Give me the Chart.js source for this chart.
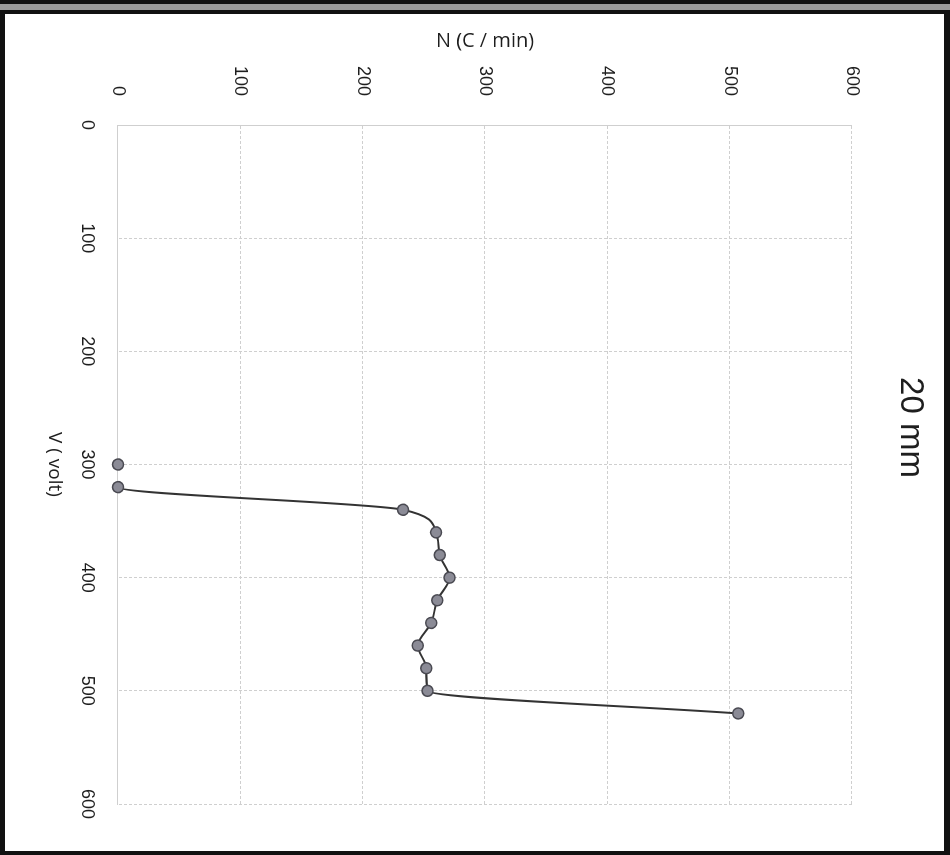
<!DOCTYPE html>
<html>
<head>
<meta charset="utf-8">
<title>20 mm</title>
<script src="https://cdn.jsdelivr.net/npm/chart.js@4.4.1/dist/chart.umd.min.js"></script>
<style>
  html, body { margin: 0; padding: 0; background: #ffffff; }
  body { width: 950px; height: 855px; position: relative; overflow: hidden; }
  .edge { position: absolute; background: #111; }
  #plot {
    position: absolute; left: 0; top: 0;
    width: 855px; height: 950px;
    transform-origin: 0 0;
    transform: translate(950px, 0) rotate(90deg);
  }
</style>
</head>
<body>
<div id="plot"><canvas id="c" width="855" height="950"></canvas></div>
<div class="edge" style="left:0;top:0;width:950px;height:4px;"></div>
<div class="edge" style="left:0;top:4px;width:950px;height:6px;background:#9a9a9a;"></div>
<div class="edge" style="left:0;top:10px;width:950px;height:4px;"></div>
<div class="edge" style="left:0;top:10px;width:5px;height:845px;"></div>
<div class="edge" style="left:944px;top:10px;width:6px;height:845px;"></div>
<div class="edge" style="left:0;top:851px;width:950px;height:4px;"></div>
<script>
// Applied voltage (V) and measured count rate N (C / min)
const voltage = [300, 320, 340, 360, 380, 400, 420, 440, 460, 480, 500, 520];
const countRate = [0, 0, 233, 260, 263, 271, 261, 256, 245, 252, 253, 507];

const axisMin = 0;
const axisMax = 600;
const axisStep = 100;

const chartTitle = '20 mm';
const xTitle = 'V ( volt)';
const yTitle = 'N (C / min)';

const gridColor = '#cfcfcf';
const textColor = '#1e1e1e';

new Chart(document.getElementById('c'), {
  type: 'line',
  data: {
    datasets: [{
      data: voltage.map((v, i) => ({ x: v, y: countRate[i] })),
      borderColor: '#333333',
      borderWidth: 2,
      pointRadius: 5.5,
      pointHoverRadius: 5.5,
      pointBackgroundColor: '#8b8b96',
      pointBorderColor: '#4a4a52',
      pointBorderWidth: 1.5,
      cubicInterpolationMode: 'monotone',
      clip: false,
      segment: {
        // no connecting stroke between the two zero-count readings
        borderColor: ctx => ctx.p0DataIndex === 0 ? 'rgba(0,0,0,0)' : undefined
      }
    }]
  },
  options: {
    responsive: false,
    animation: false,
    layout: { padding: 0 },
    plugins: {
      legend: { display: false },
      tooltip: { enabled: false },
      title: {
        display: true,
        text: chartTitle,
        color: textColor,
        font: { family: 'Liberation Sans', size: 33, weight: 'normal', lineHeight: 1.2 },
        padding: { top: 20, bottom: 38.4 }
      }
    },
    scales: {
      x: {
        type: 'linear',
        position: 'bottom',
        min: axisMin,
        max: axisMax,
        afterFit: s => { s.height = 118; },
        ticks: {
          stepSize: axisStep,
          color: textColor,
          padding: 20,
          maxRotation: 0,
          font: { family: 'Liberation Sans', size: 18 }
        },
        grid: { color: gridColor, lineWidth: 1, drawTicks: false, borderDash: [3, 2] },
        border: { display: true, color: gridColor, dash: [3, 2] },
        title: {
          display: true,
          text: xTitle,
          color: textColor,
          font: { family: 'Open Sans', size: 19 },
          padding: { top: 43, bottom: 43 }
        }
      },
      y: {
        type: 'linear',
        position: 'left',
        min: axisMin,
        max: axisMax,
        afterFit: s => { s.width = 125; },
        ticks: {
          stepSize: axisStep,
          color: textColor,
          padding: 29,
          font: { family: 'Liberation Sans', size: 18 }
        },
        grid: { color: gridColor, lineWidth: 1, drawTicks: false, borderDash: [3, 2] },
        border: { display: true, color: gridColor, dash: [3, 2] },
        title: {
          display: true,
          text: yTitle,
          color: textColor,
          font: { family: 'Open Sans', size: 20 },
          padding: { top: 29, bottom: 29 }
        }
      },
      // empty margin on the far side of the plot
      side: {
        type: 'linear',
        position: 'right',
        display: true,
        min: axisMin,
        max: axisMax,
        afterFit: s => { s.width = 51; },
        ticks: { display: false },
        grid: { display: false, drawTicks: false },
        border: { display: false }
      }
    }
  }
});
</script>
</body>
</html>
